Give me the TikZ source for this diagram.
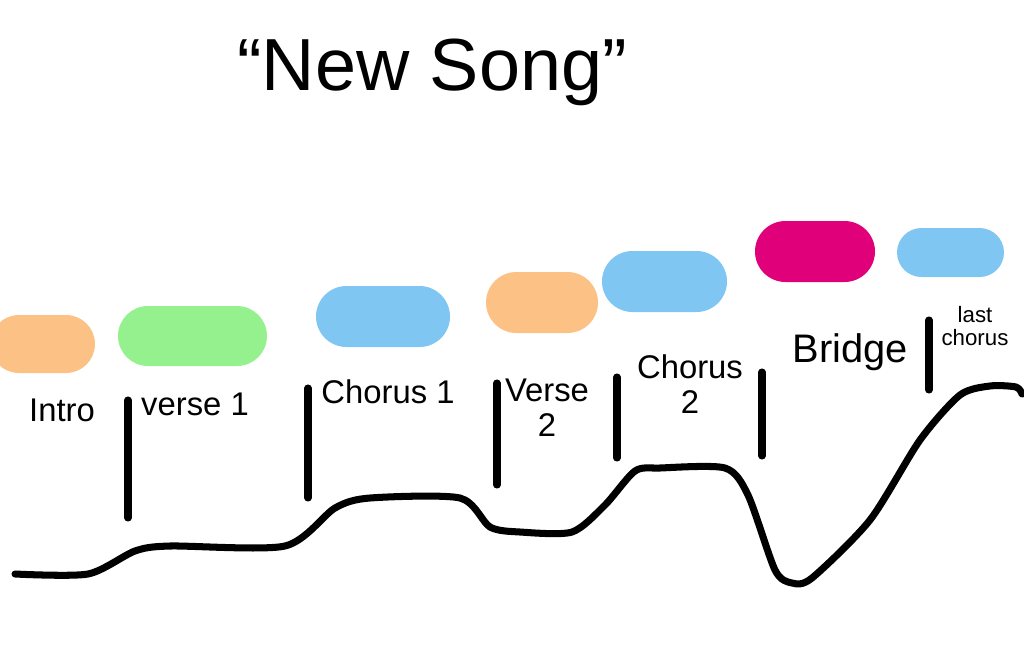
\documentclass[tikz,border=0pt]{standalone}
\usepackage{fontspec}
\setmainfont{Liberation Sans}
\usetikzlibrary{shapes.misc}
\definecolor{pOrange}{HTML}{FCC285}
\definecolor{pGreen}{HTML}{95F18E}
\definecolor{pBlue}{HTML}{80C6F2}
\definecolor{pMagenta}{HTML}{E0007A}
\tikzset{
  pill/.style={rounded rectangle, draw=none, inner sep=0pt},
  bar/.style={line width=6pt, line cap=round, black},
  curveline/.style={line width=6pt, line cap=round, line join=round, black},
  lbl/.style={font=\fontsize{28}{30}\selectfont, align=center, inner sep=0pt},
}
\begin{document}
\begin{tikzpicture}[x=0.03cm,y=-0.03cm]
\useasboundingbox (0,0) rectangle (1024,659);
% title
\node[font=\fontsize{63}{65}\selectfont, inner sep=0pt] (title) at (432,72) {“New Song”};
% pills
\node[pill, fill=pOrange, minimum width=3.15cm, minimum height=1.74cm] (p1) at (42.5,344) {};
\node[pill, fill=pGreen, minimum width=4.47cm, minimum height=1.8cm] (p2) at (192.5,336) {};
\node[pill, fill=pBlue, minimum width=4.02cm, minimum height=1.83cm] (p3) at (383,316.5) {};
\node[pill, fill=pOrange, minimum width=3.36cm, minimum height=1.83cm] (p4) at (542,302.5) {};
\node[pill, fill=pBlue, minimum width=3.75cm, minimum height=1.83cm] (p5) at (664.5,281.5) {};
\node[pill, fill=pMagenta, minimum width=3.6cm, minimum height=1.83cm] (p6) at (815,251.5) {};
\node[pill, fill=pBlue, minimum width=3.21cm, minimum height=1.47cm] (p7) at (950.5,252.5) {};
% bars
\draw[bar] (128,400) -- (128,518);
\draw[bar] (308,388) -- (308,498);
\draw[bar] (497,383) -- (497,485);
\draw[bar] (617,377) -- (617,458);
\draw[bar] (762,372) -- (762,456);
\draw[bar] (929,320) -- (929,390);
% labels
\node[lbl] (l1) at (62,410) {Intro};
\node[lbl] (l2) at (195,404) {verse 1};
\node[lbl] (l3) at (388,392) {Chorus 1};
\node[lbl] (l4) at (547,408) {Verse\\2};
\node[lbl] (l5) at (690,384) {Chorus\\2};
\node[lbl, font=\fontsize{34}{36}\selectfont] (l6) at (850,352) {Bridge};
\node[lbl, font=\fontsize{19}{20}\selectfont] (l7) at (975,326) {last\\chorus};
% energy curve
\draw[curveline] plot[smooth, tension=0.45] coordinates {
 (15,574) (88,574) (135,551) (170,546) (285,546) (335,508) (370,498)
 (460,498) (490,527) (520,532) (572,532) (605,505) (635,471) (660,468)
 (725,468) (748,495) (775,570) (792,583) (812,578) (870,520) (920,440)
 (960,395) (990,386) (1016,387) (1022,394)};
\end{tikzpicture}
\end{document}
